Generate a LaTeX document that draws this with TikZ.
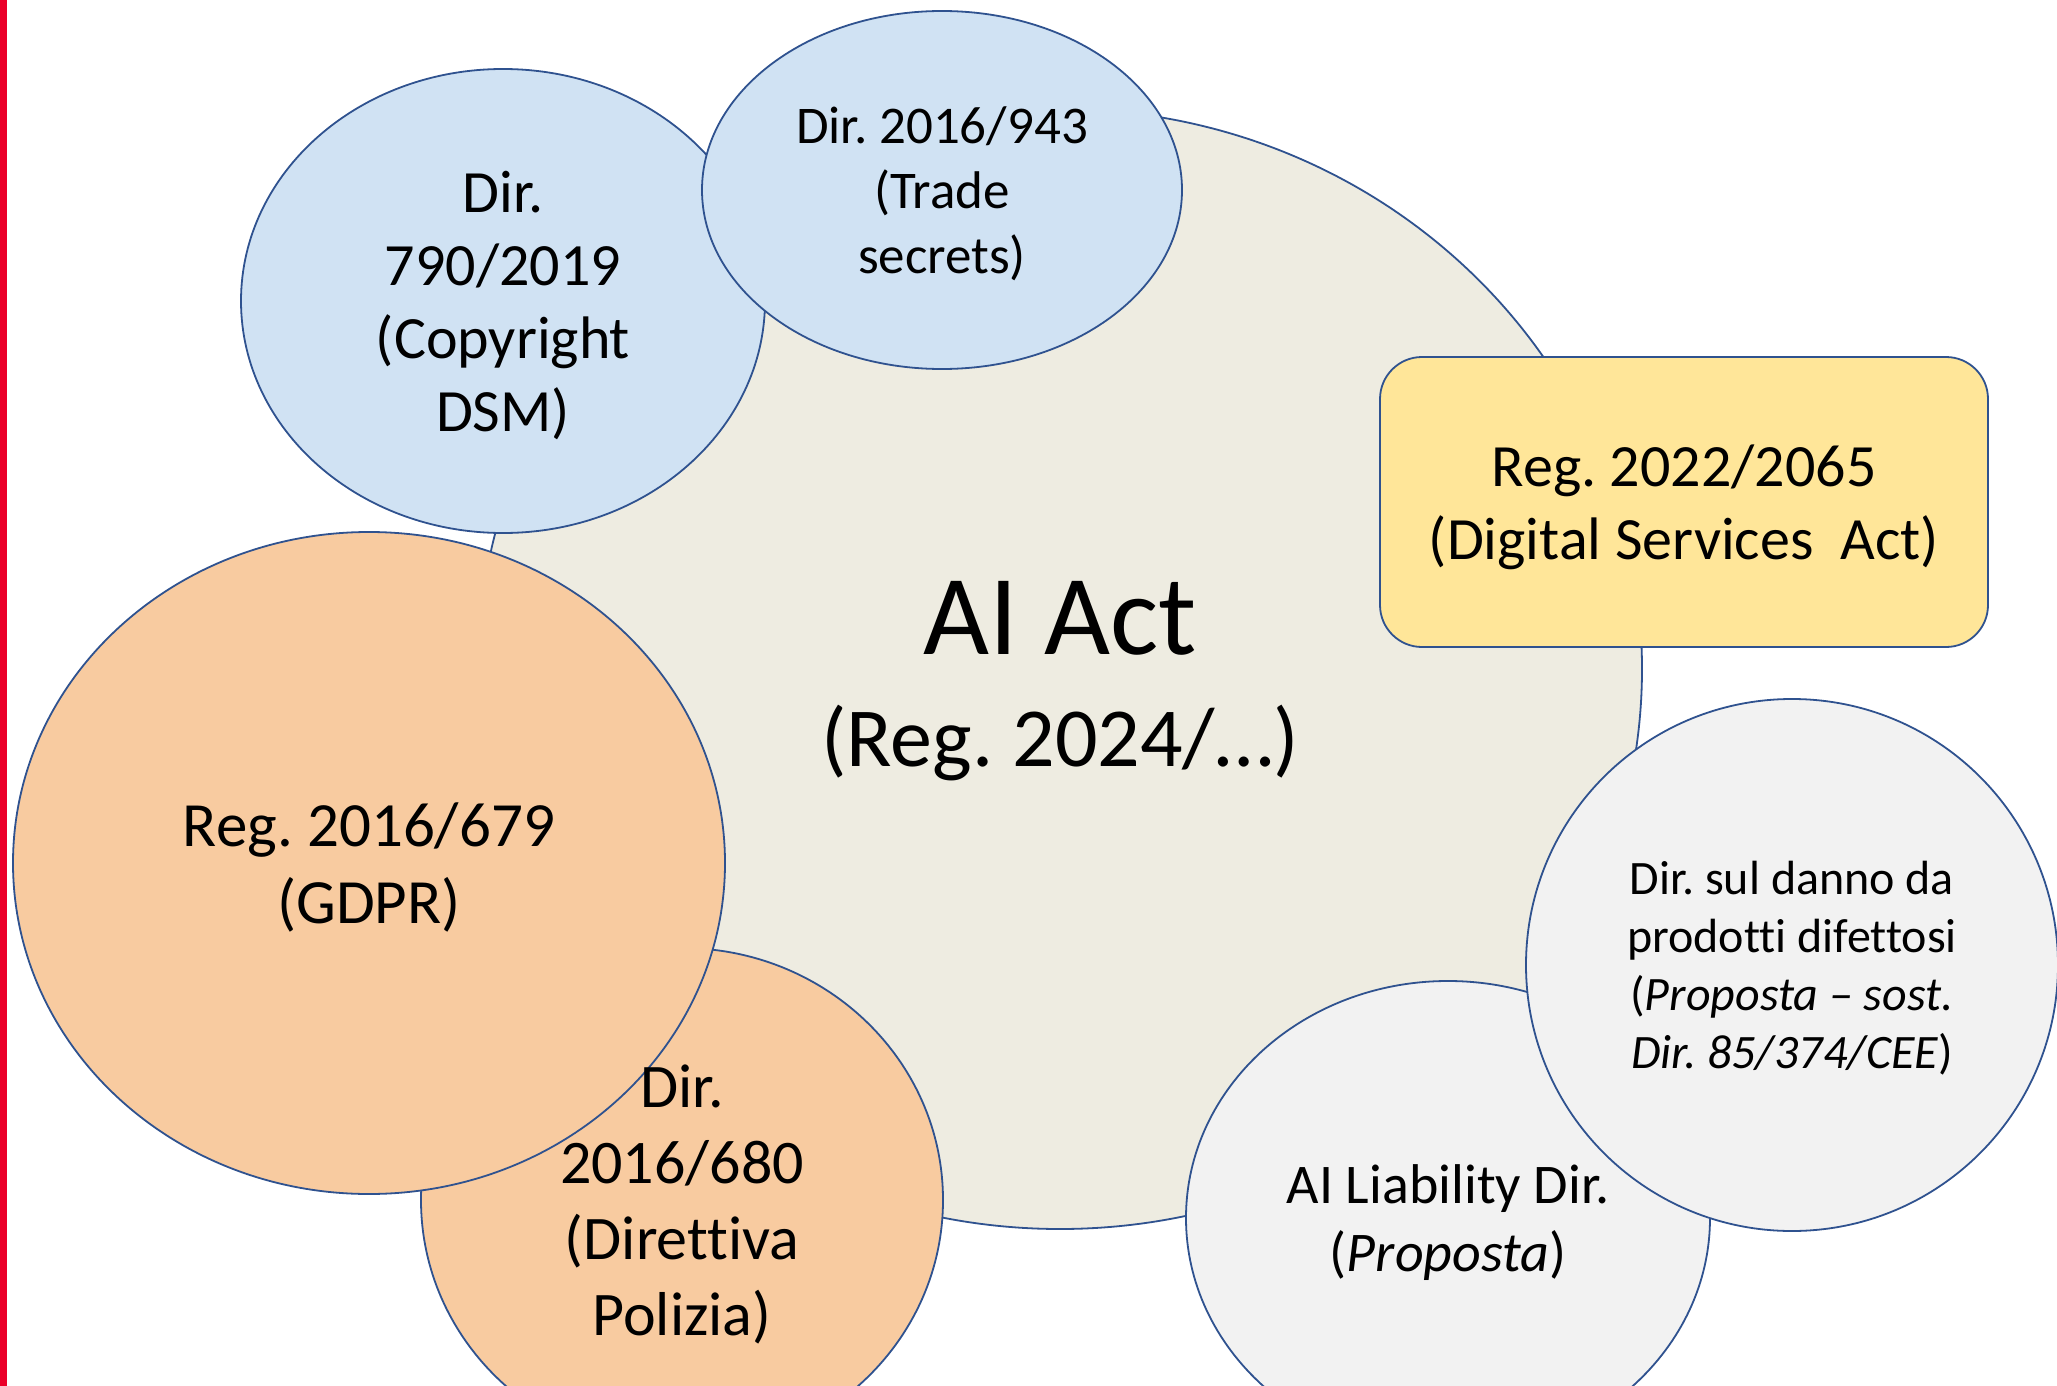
\documentclass[tikz,border=0pt]{standalone}
\usepackage{fontspec}
\setmainfont{Carlito}[Ligatures=NoCommon]
\usetikzlibrary{shapes.geometric}
\frenchspacing

\definecolor{edgeblue}{HTML}{2F528F}
\definecolor{actfill}{HTML}{EEECE1}
\definecolor{dirblue}{HTML}{D0E2F3}
\definecolor{dsayellow}{HTML}{FFE699}
\definecolor{gdprorange}{HTML}{F8CBA0}
\definecolor{liabgrey}{HTML}{F2F2F2}
\definecolor{barred}{HTML}{EB0029}

\begin{document}
\begin{tikzpicture}[
    x=1pt, y=-1pt,
    law/.style={
        ellipse,
        draw=edgeblue,
        line width=1.8pt,
        inner sep=0pt,
        outer sep=0pt
    },
    lawbox/.style={
        rectangle,
        rounded corners=42,
        draw=edgeblue,
        line width=1.8pt,
        inner sep=0pt,
        outer sep=0pt
    },
    txt/.style={align=center, text depth=0pt, inner sep=0pt}
]
\useasboundingbox (0,0) rectangle (2057,1386);
\clip (0,0) rectangle (2057,1386);

% central regulation
\node[law, fill=actfill, minimum width=1164, minimum height=1120] (aiact) at (1060,669) {};
\node[txt, font=\fontsize{84}{112}\selectfont] (aiacttxt) at (1060,674)
    {{\fontsize{114}{139}\selectfont AI Act}\\(Reg. 2024/…)};

% directives on top
\node[law, fill=dirblue, minimum width=524, minimum height=464] (copyright) at (503,301) {};
\node[txt, font=\fontsize{60}{73}\selectfont] (copyrighttxt) at (copyright) {Dir.\\790/2019\\(Copyright\\DSM)};
\node[law, fill=dirblue, minimum width=480, minimum height=358] (tradesec) at (942,190) {};
\node[txt, font=\fontsize{53}{65}\selectfont] (tradesectxt) at (tradesec) {Dir. 2016/943\\(Trade\\secrets)};

% data protection
\node[law, fill=gdprorange, minimum width=522, minimum height=504] (police) at (682,1200) {};
\node[law, fill=gdprorange, minimum width=712, minimum height=662] (gdpr) at (369,863) {};
\node[txt, font=\fontsize{63}{77}\selectfont] (gdprtxt) at (gdpr) {Reg. 2016/679\\(GDPR)};
\node[txt, font=\fontsize{62}{76}\selectfont] (policetxt) at (police) {Dir.\\2016/680\\(Direttiva\\Polizia)};

% digital services
\node[lawbox, fill=dsayellow, minimum width=608, minimum height=290] (dsa) at (1684,502) {};
\node[txt, font=\fontsize{60}{73}\selectfont] (dsatxt) at (dsa) {Reg. 2022/2065\\(Digital Services\ \ Act)};

% liability
\node[law, fill=liabgrey, minimum width=524, minimum height=474] (liability) at (1448,1218) {};
\node[txt, font=\fontsize{56}{68}\selectfont] (liabilitytxt) at (liability) {AI Liability Dir.\\(\textit{Proposta})};
\node[law, fill=liabgrey, minimum width=532, minimum height=532] (product) at (1792,965) {};
\node[txt, font=\fontsize{48}{58}\selectfont] (producttxt) at (product)
    {Dir. sul danno da\\prodotti difettosi\\(\textit{Proposta – sost.}\\\textit{Dir. 85/374/CEE})};

\fill[barred] (0,0) rectangle (7,1386);
\end{tikzpicture}
\end{document}
